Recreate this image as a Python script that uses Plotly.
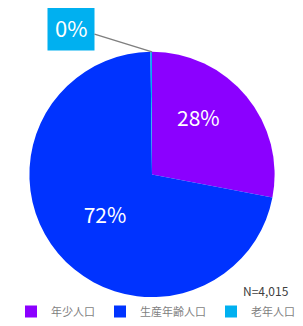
import math
import plotly.graph_objects as go

categories = ["年少人口", "生産年齢人口", "老年人口"]
values = [1125, 2882, 8]
colors = ["#8B00FF", "#0033FF", "#00B0F0"]
total_label = "N=4,015"

W, H = 295, 318          # page has 8px body margin
cx, cy, R = 144, 167, 123  # pie centre / radius in figure pixels

total = sum(values)
pcts = [round(v / total * 100) for v in values]

def px(x):
    return x / W

def py(y):
    return 1 - y / H

fig = go.Figure(go.Pie(
    labels=categories,
    values=values,
    sort=False,
    direction="clockwise",
    rotation=0,
    marker=dict(colors=colors, line=dict(width=0)),
    text=["", f"{pcts[1]}%", ""],
    textinfo="text",
    textposition="inside",
    insidetextorientation="horizontal",
    textfont=dict(family="Noto Sans CJK JP", size=21, color="white"),
    domain=dict(x=[px(cx - R), px(cx + R)], y=[py(cy + R), py(cy - R)]),
    hoverinfo="label+percent",
))

# 28% label placed along the slice bisector
mid = values[0] / total * 360 / 2
r = 0.74 * R
fig.add_annotation(
    x=px(cx + r * math.sin(math.radians(mid))),
    y=py(cy - r * math.cos(math.radians(mid))),
    xref="paper", yref="paper", showarrow=False,
    text=f"{pcts[0]}%",
    font=dict(family="Noto Sans CJK JP", size=21, color="white"),
)

# 0% callout
fig.add_annotation(
    x=px(cx), y=py(cy - R), xref="paper", yref="paper",
    text=f"{pcts[2]}%", showarrow=True, arrowhead=0, arrowwidth=1.5,
    arrowcolor="#7f7f7f", ax=-81, ay=-25,
    bgcolor="#00B0F0", borderpad=7,
    font=dict(family="Noto Sans CJK JP", size=22, color="white"),
)
fig.add_annotation(
    x=px(283), y=py(283), xref="paper", yref="paper", xanchor="right", yanchor="middle",
    text=total_label, showarrow=False,
    font=dict(family="Noto Sans CJK JP", size=12, color="#404040"),
)

fig.update_layout(
    width=W, height=H,
    margin=dict(l=0, r=0, t=0, b=0),
    paper_bgcolor="white",
    showlegend=True,
    legend=dict(orientation="h", x=0.5, xanchor="center", y=py(304), yanchor="middle",
                font=dict(family="Noto Sans CJK JP", size=11, color="#7f7f7f"),
                itemwidth=30, tracegroupgap=0),
)

fig.write_html("out.html")
